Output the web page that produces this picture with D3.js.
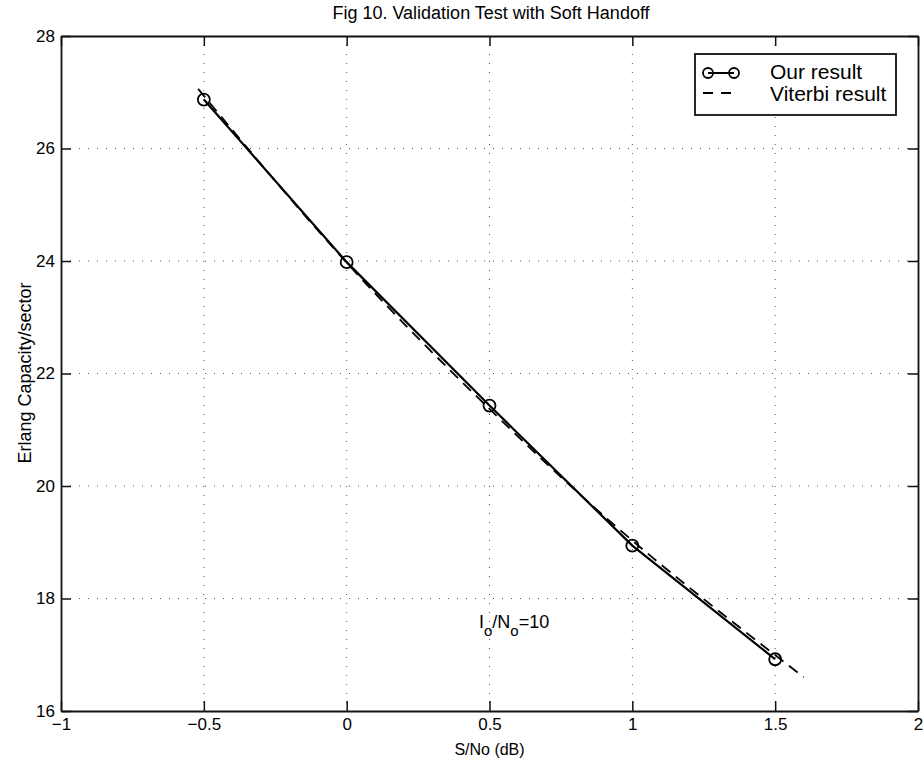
<!DOCTYPE html>
<html><head><meta charset="utf-8">
<script src="https://cdn.jsdelivr.net/npm/d3@7"></script>
<style>body{margin:0;background:#fff}</style>
</head><body><svg id="c" width="924" height="765"></svg>
<script>
const xTicks = [-1, -0.5, 0, 0.5, 1, 1.5, 2];
const xTickLabels = ["\u22121", "\u22120.5", "0", "0.5", "1", "1.5", "2"];
const yTicks = [16, 18, 20, 22, 24, 26, 28];
const yTickLabels = ["16", "18", "20", "22", "24", "26", "28"];
const ourX = [-0.5, 0, 0.5, 1, 1.5];
const ourY = [26.87, 23.98, 21.43, 18.94, 16.92];
const viterbiX = [-0.52, 0, 0.5, 1, 1.6];
const viterbiY = [27.06, 23.97, 21.37, 19.03, 16.6];
const legendLabels = ["Our result", "Viterbi result"];
const titleText = "Fig 10. Validation Test with Soft Handoff";
const xLabel = "S/No (dB)";
const yLabel = "Erlang Capacity/sector";

const font = "'Liberation Sans', Arial, Helvetica, sans-serif";
const svg = d3.select("#c").style("font-family", font);
const L = 61, R = 918, T = 36, B = 711;
const x = d3.scaleLinear().domain([-1, 2]).range([L, R]);
const y = d3.scaleLinear().domain([16, 28]).range([B, T]);

// grid
const g = svg.append("g");
g.selectAll(".gx").data(xTicks.slice(1, -1)).join("line")
  .attr("x1", d => x(d)).attr("x2", d => x(d)).attr("y1", T).attr("y2", B)
  .attr("stroke", "#555").attr("stroke-width", 1).attr("stroke-dasharray", "1,8");
g.selectAll(".gy").data(yTicks.slice(1, -1)).join("line")
  .attr("y1", d => y(d)).attr("y2", d => y(d)).attr("x1", L).attr("x2", R)
  .attr("stroke", "#555").attr("stroke-width", 1).attr("stroke-dasharray", "1,8");

// axes
const tickLen = 10;
const xb = svg.append("g").attr("transform", `translate(0,${B})`)
  .call(d3.axisBottom(x).tickValues(xTicks).tickFormat((d, i) => xTickLabels[i]).tickSizeInner(-tickLen).tickSizeOuter(0).tickPadding(5));
const xt = svg.append("g").attr("transform", `translate(0,${T})`)
  .call(d3.axisTop(x).tickValues(xTicks).tickFormat("").tickSizeInner(-tickLen).tickSizeOuter(0));
const yl = svg.append("g").attr("transform", `translate(${L},0)`)
  .call(d3.axisLeft(y).tickValues(yTicks).tickFormat((d, i) => yTickLabels[i]).tickSizeInner(-tickLen).tickSizeOuter(0));
const yr = svg.append("g").attr("transform", `translate(${R},0)`)
  .call(d3.axisRight(y).tickValues(yTicks).tickFormat("").tickSizeInner(-tickLen).tickSizeOuter(0));
[xb, xt, yl, yr].forEach(a => {
  a.select(".domain").attr("stroke", "#111").attr("stroke-width", 1.8);
  a.selectAll(".tick line").attr("stroke", "#111").attr("stroke-width", 1.5);
  a.selectAll("text").attr("font-family", font).attr("font-size", 17).attr("fill", "#000");
});
xb.selectAll("text").attr("dy", "0.85em");
yl.selectAll("text").attr("x", -6);

// Viterbi dashed
const line = d3.line().x(d => x(d[0])).y(d => y(d[1]));
svg.append("path").datum(viterbiX.map((v, i) => [v, viterbiY[i]]))
  .attr("d", line.curve(d3.curveNatural)).attr("fill", "none")
  .attr("stroke", "#000").attr("stroke-width", 1.8).attr("stroke-dasharray", "11,7");

// our result
const ourData = ourX.map((v, i) => [v, ourY[i]]);
svg.append("path").datum(ourData)
  .attr("d", d3.line().x(d => x(d[0])).y(d => y(d[1]))).attr("fill", "none")
  .attr("stroke", "#000").attr("stroke-width", 2.2);
svg.selectAll(".m").data(ourData).join("circle")
  .attr("cx", d => x(d[0])).attr("cy", d => y(d[1])).attr("r", 6)
  .attr("fill", "none").attr("stroke", "#000").attr("stroke-width", 1.8);

// title and labels
svg.append("text").attr("x", 491).attr("y", 19).attr("text-anchor", "middle")
  .attr("font-size", 18).text(titleText);
svg.append("text").attr("x", x(0.5)).attr("y", 755).attr("text-anchor", "middle")
  .attr("font-size", 16).text(xLabel);
svg.append("text").attr("transform", "translate(31,373) rotate(-90)").attr("text-anchor", "middle")
  .attr("font-size", 18).text(yLabel);

// annotation
const ann = svg.append("text").attr("x", 479).attr("y", 628).attr("font-size", 18);
ann.append("tspan").text("I");
ann.append("tspan").attr("dy", 8).attr("font-size", 15).text("o");
ann.append("tspan").attr("dy", -8).text("/N");
ann.append("tspan").attr("dy", 8).attr("font-size", 15).text("o");
ann.append("tspan").attr("dy", -8).text("=10");

// legend
const lg = svg.append("g");
lg.append("rect").attr("x", 695).attr("y", 54).attr("width", 201).attr("height", 61)
  .attr("fill", "#fff").attr("stroke", "#111").attr("stroke-width", 1.8);
lg.append("line").attr("x1", 708).attr("x2", 734).attr("y1", 73).attr("y2", 73)
  .attr("stroke", "#000").attr("stroke-width", 2);
lg.selectAll(".lm").data([708, 734]).join("circle").attr("cx", d => d).attr("cy", 73).attr("r", 5)
  .attr("fill", "none").attr("stroke", "#000").attr("stroke-width", 1.8);
lg.append("line").attr("x1", 703).attr("x2", 739).attr("y1", 93).attr("y2", 93)
  .attr("stroke", "#000").attr("stroke-width", 1.8).attr("stroke-dasharray", "10,8");
lg.selectAll(".lt").data(legendLabels).join("text")
  .attr("x", 770).attr("y", (d, i) => 79 + i * 22).attr("font-size", 21).text(d => d);
</script></body></html>
